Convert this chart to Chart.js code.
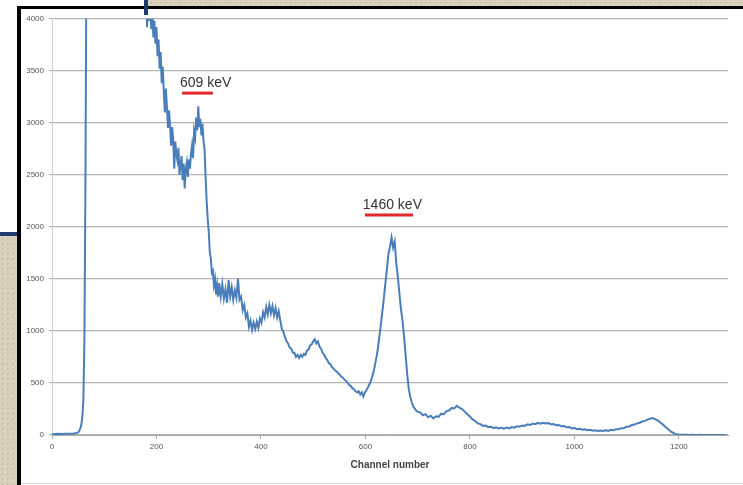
<!DOCTYPE html>
<html>
<head>
<meta charset="utf-8">
<script src="https://cdn.jsdelivr.net/npm/chart.js@4/dist/chart.umd.min.js"></script>
<style>
  html, body { margin: 0; padding: 0; }
  body { width: 743px; height: 485px; position: relative; overflow: hidden; background: #ffffff; font-family: "Liberation Sans", Arial, sans-serif; }
  .paper { position: absolute; background: #d9d0bb;
    background-image: radial-gradient(rgba(120,100,70,0.16) 1px, transparent 1px), radial-gradient(rgba(255,255,255,0.3) 1px, transparent 1px);
    background-size: 5px 5px, 7px 7px; background-position: 0 0, 2px 3px; }
  .navy { position: absolute; background: #1d3b6f; }
  #frame { position: absolute; left: 17px; top: 6px; width: 722px; height: 479px; border-left: 4px solid #000; border-top: 3px solid #000; background: #fff; }
  #plot { position: absolute; left: 21px; top: 9px; width: 722px; height: 474px; border-bottom: 1px solid #d4d4d4; }
</style>
</head>
<body>
<div class="paper" style="left:148px; top:0; width:595px; height:7px;"></div>
<div class="paper" style="left:0; top:236px; width:17px; height:249px;"></div>
<div class="navy" style="left:0; top:232px; width:17px; height:4px;"></div>
<div id="frame"></div>
<div class="navy" style="left:144px; top:0; width:4px; height:15px;"></div>
<div id="plot"><canvas id="c" width="722" height="474"></canvas></div>
<script>
// Gamma spectrum: counts per channel, stored as segments sampled at a fixed channel step.
const segmentStarts = [0, 50, 80, 180, 320, 705];
const segmentSteps  = [6, 2, 10, 2, 3, 5];

// pedestal below threshold
const countsLow = [6, 9, 11, 10, 12, 11, 13, 14, 20];
// threshold edge
const countsEdge = [25, 38, 60, 95, 170, 330, 900, 2400, 4700, 7200, 9500];
// low-energy region above the axis limit
const countsHigh = [12500, 13800, 13200, 11900, 10600, 9400, 8300, 7100, 6000, 5000];
// 609 keV region
const counts609 = [
  4500, 3920, 4250, 3980, 4150, 3900, 4080, 3820, 3980, 3760,
  3920, 3640, 3800, 3520, 3680, 3380, 3540, 3300, 3100, 3330,
  3150, 2950, 3120, 2980, 2780, 2960, 2840, 2560, 2820, 2700,
  2640, 2760, 2500, 2600, 2680, 2450, 2610, 2370, 2560, 2620,
  2480, 2650, 2560, 2700, 2780, 2660, 2920, 2860, 3050, 2930,
  3160, 2960, 3040, 2880, 2990, 2830, 2750, 2480, 2250, 2080,
  1960, 1760, 1700, 1560, 1580, 1440, 1500, 1350, 1440, 1330
];
// Compton continuum and the 1460 keV peak
const counts1460 = [
  1460, 1330, 1450, 1310, 1400, 1270, 1490, 1330, 1420, 1300,
  1390, 1320, 1500, 1300, 1330, 1200, 1250, 1130, 1170, 1040,
  1100, 1010, 1080, 1020, 1090, 1030, 1120, 1080, 1180, 1130,
  1230, 1160, 1250, 1170, 1240, 1150, 1220, 1130, 1190, 1100,
  1020, 990, 940, 900, 880, 840, 830, 790, 790, 750,
  770, 740, 770, 750, 780, 770, 810, 820, 860, 870,
  900, 920, 880, 900, 850, 830, 790, 770, 740, 720,
  690, 680, 650, 640, 620, 610, 590, 580, 560, 550,
  530, 520, 500, 480, 470, 450, 440, 420, 410, 420,
  390, 410, 370, 410, 430, 460, 490, 530, 580, 640,
  720, 800, 920, 1040, 1170, 1300, 1450, 1590, 1740, 1810,
  1900, 1800, 1860, 1650, 1520, 1360, 1210, 1100, 940, 760,
  580, 440, 360, 310, 270, 250, 230
];
// high-energy tail
const countsTail = [
  215, 190, 200, 170, 185, 160, 180, 175, 205, 200,
  230, 235, 260, 255, 280, 262, 250, 225, 200, 178,
  150, 135, 112, 105, 88, 92, 75, 80, 66, 74,
  62, 70, 60, 72, 64, 76, 70, 84, 80, 92,
  88, 102, 96, 110, 104, 116, 108, 118, 110, 114,
  104, 106, 94, 96, 84, 86, 74, 76, 64, 68,
  56, 60, 50, 54, 45, 50, 42, 46, 38, 44,
  38, 45, 40, 50, 46, 56, 55, 66, 68, 80,
  82, 96, 100, 112, 118, 130, 136, 148, 156, 162,
  150, 138, 118, 98, 74, 52, 32, 18, 8, 4,
  3, 2, 2, 1, 2, 1, 1, 2, 1, 1,
  1, 1, 1, 1, 1, 1, 1, 1
];

const yTicks = [0, 500, 1000, 1500, 2000, 2500, 3000, 3500, 4000];
const xTicks = [0, 200, 400, 600, 800, 1000, 1200];
const peakLabels = ['609 keV', '1460 keV'];

const segments = [countsLow, countsEdge, countsHigh, counts609, counts1460, countsTail];
const points = [];
segments.forEach((arr, s) => {
  arr.forEach((v, i) => points.push({ x: segmentStarts[s] + i * segmentSteps[s], y: v }));
});

// Peak captions placed in data coordinates: text anchor and underline span.
const captionPlugin = {
  id: 'peakCaptions',
  afterDatasetsDraw(chart) {
    const { ctx, scales: { x, y } } = chart;
    const spots = [
      { text: peakLabels[0], cx: 245, cy: 3381, u0: 249, u1: 308, uy: 3286 },
      { text: peakLabels[1], cx: 595, cy: 2210, u0: 599, u1: 691, uy: 2114 }
    ];
    ctx.save();
    spots.forEach(s => {
      ctx.font = '14px "Liberation Sans", Arial, sans-serif';
      ctx.fillStyle = '#333333';
      ctx.textAlign = 'left';
      ctx.textBaseline = 'middle';
      ctx.fillText(s.text, x.getPixelForValue(s.cx), y.getPixelForValue(s.cy));
      ctx.strokeStyle = '#e3262c';
      ctx.lineWidth = 3;
      ctx.beginPath();
      ctx.moveTo(x.getPixelForValue(s.u0), y.getPixelForValue(s.uy));
      ctx.lineTo(x.getPixelForValue(s.u1), y.getPixelForValue(s.uy));
      ctx.stroke();
    });
    ctx.restore();
  }
};

const plain = v => String(v);

new Chart(document.getElementById('c'), {
  type: 'line',
  data: {
    datasets: [{
      data: points,
      borderColor: '#4a7ebb',
      borderWidth: 2,
      pointRadius: 0,
      tension: 0,
      fill: false
    }]
  },
  options: {
    responsive: false,
    animation: false,
    devicePixelRatio: 1,
    layout: { padding: { left: 0, right: 15, top: 6, bottom: 0 } },
    plugins: { legend: { display: false }, tooltip: { enabled: false } },
    scales: {
      x: {
        type: 'linear',
        min: 0,
        max: 1294,
        afterFit(s) { s.height = 48; },
        afterBuildTicks(s) { s.ticks = xTicks.map(v => ({ value: v })); },
        ticks: { callback: plain, color: '#555', font: { size: 8, family: '"Liberation Sans", Arial' }, padding: 3, maxRotation: 0, autoSkip: false },
        grid: { drawOnChartArea: false, drawTicks: true, tickLength: 4, color: '#a8a8a8' },
        border: { display: true, color: '#a8a8a8', width: 1 },
        title: { display: true, text: 'Channel number', color: '#444', font: { size: 10, weight: 'bold', family: '"Liberation Sans", Arial' }, padding: { top: 4, bottom: 12 } }
      },
      y: {
        min: 0,
        max: 4000,
        afterFit(s) { s.width = 31; },
        afterBuildTicks(s) { s.ticks = yTicks.map(v => ({ value: v })); },
        ticks: { callback: plain, color: '#555', font: { size: 8, family: '"Liberation Sans", Arial' }, padding: 5 },
        grid: { color: '#b4b4b4', lineWidth: 1.2, tickLength: 3 },
        border: { display: true, color: '#cfcfcf', width: 1 }
      }
    }
  },
  plugins: [captionPlugin]
});
</script>
</body>
</html>
